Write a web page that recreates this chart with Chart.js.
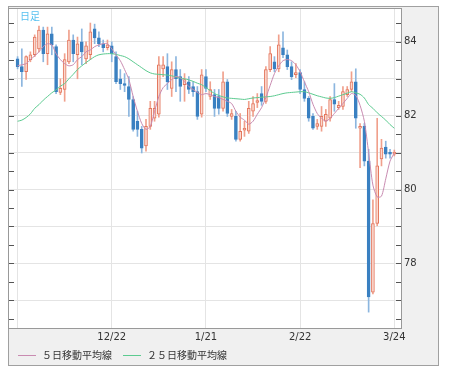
<!DOCTYPE html>
<html>
<head>
<meta charset="utf-8">
<script src="https://cdn.jsdelivr.net/npm/chart.js@4"></script>
<style>
  html, body { margin: 0; padding: 0; background: #fff; }
  canvas { display: block; }
</style>
</head>
<body>
<canvas id="usdjpy" width="449" height="374"></canvas>
<script>
const dates = ['11/22','11/23','11/24','11/25','11/26','11/29','11/30','12/1','12/2','12/3',
  '12/6','12/7','12/8','12/9','12/10','12/13','12/14','12/15','12/16','12/17',
  '12/20','12/21','12/22','12/23','12/24','12/27','12/28','12/29','12/30','12/31',
  '1/3','1/4','1/5','1/6','1/7','1/10','1/11','1/12','1/13','1/14',
  '1/17','1/18','1/19','1/20','1/21','1/24','1/25','1/26','1/27','1/28',
  '1/31','2/1','2/2','2/3','2/4','2/7','2/8','2/9','2/10','2/11',
  '2/14','2/15','2/16','2/17','2/18','2/21','2/22','2/23','2/24','2/25',
  '2/28','3/1','3/2','3/3','3/4','3/7','3/8','3/9','3/10','3/11',
  '3/14','3/15','3/16','3/17','3/18','3/21','3/22','3/23','3/24'];

const openPrices = [83.54,83.33,83.19,83.52,83.65,83.81,84.32,83.68,84.22,83.87,
  82.63,82.71,83.46,84.05,83.65,84.00,83.54,83.65,84.35,84.11,
  83.95,83.84,83.89,83.60,83.00,82.87,82.79,82.44,81.85,81.63,
  81.18,81.71,81.93,82.04,83.27,83.33,82.74,83.25,83.06,82.84,
  82.92,82.79,82.65,82.04,83.06,82.52,82.57,82.52,82.20,82.92,
  81.98,81.98,81.36,81.61,81.58,82.12,82.36,82.60,82.39,83.25,
  83.46,83.27,83.84,83.65,83.33,83.11,83.17,82.71,82.47,81.98,
  81.71,81.71,81.85,81.93,82.44,82.22,82.25,82.57,82.71,82.92,
  81.66,81.71,80.77,77.22,79.08,80.83,81.15,81.01,80.96];

const highPrices = [83.60,83.81,83.62,83.73,84.19,84.43,84.40,84.40,84.40,83.92,
  83.00,83.68,84.32,84.19,84.13,84.35,84.00,84.51,84.48,84.27,
  84.05,84.05,84.00,83.73,83.25,83.14,83.06,82.52,82.12,81.71,
  81.90,82.39,82.39,83.60,83.60,83.68,83.46,83.60,83.25,83.14,
  83.06,82.92,82.79,83.25,83.25,82.92,82.71,82.71,83.19,82.98,
  82.17,82.12,82.06,81.85,82.39,82.52,82.60,82.79,83.33,83.87,
  83.60,84.19,84.27,83.78,83.46,83.41,83.25,82.92,82.52,82.06,
  81.90,82.25,82.17,82.52,82.87,82.39,82.79,82.79,83.19,83.27,
  81.79,81.79,81.09,79.72,81.93,81.36,81.31,81.09,81.07];

const lowPrices = [83.27,82.79,82.98,83.46,83.60,83.73,83.46,83.38,83.65,82.60,
  82.57,82.39,83.41,83.46,83.00,83.38,83.41,83.52,83.95,83.87,
  83.73,83.78,83.46,82.87,82.71,82.65,81.98,81.58,81.44,80.99,
  81.04,81.63,81.85,81.96,83.06,82.71,82.52,82.65,82.39,82.39,
  82.60,82.52,81.90,81.96,82.65,82.44,81.98,82.04,82.12,81.98,
  81.90,81.31,81.31,81.44,81.52,81.98,82.22,82.28,82.33,83.19,
  83.19,83.19,83.57,83.25,82.98,83.03,82.60,82.39,81.85,81.63,
  81.63,81.58,81.71,81.85,82.12,82.17,82.17,82.52,82.65,81.66,
  80.59,80.64,76.68,77.17,79.02,80.64,80.85,80.85,80.91];

const closePrices = [83.33,83.19,83.60,83.65,84.13,84.32,83.68,84.22,83.92,82.65,
  82.74,83.52,84.05,83.68,83.95,83.73,83.89,84.27,84.11,83.95,
  83.84,83.92,83.68,82.92,82.87,82.82,82.44,81.63,81.63,81.12,
  81.71,82.20,82.20,83.38,83.38,82.92,83.25,83.00,82.79,82.98,
  82.71,82.65,81.98,83.11,82.74,82.71,82.20,82.20,82.92,82.06,
  82.06,81.36,81.58,81.66,82.20,82.33,82.41,82.39,83.25,83.68,
  83.27,83.92,83.65,83.33,83.06,83.17,82.71,82.47,81.93,81.66,
  81.79,81.98,82.04,82.44,82.31,82.28,82.65,82.71,82.92,81.93,
  81.71,80.77,77.09,79.08,80.64,81.12,80.96,80.96,81.01];

// moving averages
const ma5 = [83.35,83.38,83.41,83.52,83.62,83.73,83.87,83.95,83.92,83.68,
  83.52,83.41,83.35,83.38,83.52,83.60,83.73,83.78,83.87,83.92,
  83.95,83.95,83.81,83.65,83.49,83.25,82.98,82.52,82.12,81.79,
  81.63,81.71,82.12,82.52,82.76,82.87,82.98,83.06,83.03,82.92,
  82.79,82.71,82.63,82.57,82.60,82.57,82.52,82.49,82.44,82.39,
  82.33,82.12,81.96,81.88,81.77,81.85,82.04,82.22,82.49,82.82,
  83.14,83.35,83.49,83.52,83.49,83.38,83.19,82.92,82.65,82.31,
  82.06,81.93,81.85,81.93,82.06,82.20,82.33,82.47,82.60,82.55,
  82.28,81.85,81.00,80.12,79.80,79.82,80.29,80.77,80.99];

const ma25 = [81.85,81.88,81.95,82.05,82.20,82.30,82.42,82.52,82.62,82.70,
  82.80,82.87,83.00,83.12,83.25,83.35,83.44,83.52,83.60,83.65,
  83.67,83.68,83.68,83.66,83.63,83.60,83.54,83.46,83.38,83.30,
  83.22,83.16,83.13,83.12,83.11,83.10,83.08,83.05,83.02,83.00,
  82.97,82.93,82.88,82.84,82.76,82.68,82.60,82.55,82.51,82.48,
  82.47,82.46,82.45,82.44,82.46,82.48,82.49,82.50,82.51,82.52,
  82.54,82.57,82.60,82.62,82.63,82.64,82.65,82.65,82.62,82.58,
  82.54,82.51,82.48,82.47,82.49,82.53,82.57,82.61,82.65,82.62,
  82.58,82.48,82.30,82.20,82.08,81.98,81.88,81.76,81.66];

const gridDates = ['11/22', '12/22', '1/21', '2/22', '3/24'];
const labelDates = ['12/22', '1/21', '2/22', '3/24'];
const yTicks = [76.5, 77, 77.5, 78, 78.5, 79, 79.5, 80, 80.5, 81, 81.5, 82, 82.5, 83, 83.5, 84, 84.5];
const yLabels = [78, 80, 82, 84];

const isUp = i => closePrices[i] >= openPrices[i];

const framePlugin = {
  id: 'frame',
  beforeDraw(chart) {
    const {ctx, chartArea: a} = chart;
    ctx.save();
    ctx.fillStyle = '#ffffff';
    ctx.fillRect(0, 0, chart.width, chart.height);
    ctx.fillStyle = '#f0f0f0';
    ctx.fillRect(8, 6, 431, 360);
    ctx.strokeStyle = '#a0a0a0';
    ctx.lineWidth = 1;
    ctx.strokeRect(8.5, 6.5, 430, 359);
    ctx.fillStyle = '#ffffff';
    ctx.fillRect(a.left, a.top, a.right - a.left, a.bottom - a.top);
    ctx.restore();
  },
  afterDraw(chart) {
    const {ctx, chartArea: a} = chart;
    const y = chart.scales.y;
    ctx.save();
    ctx.strokeStyle = '#999999';
    ctx.lineWidth = 1;
    ctx.strokeRect(a.left - 0.5, a.top - 0.5, a.right - a.left + 1, a.bottom - a.top + 1);

    // tick marks pointing into the plot on both sides
    ctx.strokeStyle = '#555555';
    ctx.beginPath();
    y.ticks.forEach(t => {
      const py = Math.round(y.getPixelForValue(t.value)) + 0.5;
      ctx.moveTo(a.left, py); ctx.lineTo(a.left + 5, py);
      ctx.moveTo(a.right - 5, py); ctx.lineTo(a.right, py);
    });
    ctx.stroke();

    ctx.fillStyle = '#55c0f0';
    ctx.font = '10px "Noto Sans CJK JP"';
    ctx.textBaseline = 'middle';
    ctx.fillText('日足', 20, 16);

    // legend
    let lx = 18;
    chart.data.datasets.filter(ds => ds.type === 'line').forEach(ds => {
      ctx.strokeStyle = ds.borderColor;
      ctx.beginPath();
      ctx.moveTo(lx, 355.5); ctx.lineTo(lx + 18, 355.5);
      ctx.stroke();
      ctx.fillStyle = '#333333';
      ctx.fillText(ds.label, lx + 24, 355);
      lx += 105;
    });
    ctx.restore();
  }
};

new Chart(document.getElementById('usdjpy'), {
  type: 'bar',
  data: {
    datasets: [{
      type: 'line',
      label: '５日移動平均線',
      data: ma5.map((v, i) => ({x: i, y: v})),
      borderColor: '#c98bb1',
      borderWidth: 1,
      pointRadius: 0,
      tension: 0.25,
      order: 1
    }, {
      type: 'line',
      label: '２５日移動平均線',
      data: ma25.map((v, i) => ({x: i, y: v})),
      borderColor: '#5ccb90',
      borderWidth: 1,
      pointRadius: 0,
      tension: 0.25,
      order: 2
    }, {
      type: 'bar',
      label: 'body',
      data: dates.map((d, i) => ({x: i, y: [openPrices[i], closePrices[i]]})),
      backgroundColor: c => isUp(c.dataIndex) ? '#fbd8ce' : '#3a80c1',
      borderColor: c => isUp(c.dataIndex) ? '#e3765d' : '#3a80c1',
      borderWidth: 1,
      borderSkipped: false,
      barThickness: 3,
      minBarLength: 1,
      grouped: false,
      order: 3
    }, {
      type: 'bar',
      label: 'wick',
      data: dates.map((d, i) => ({x: i, y: [lowPrices[i], highPrices[i]]})),
      backgroundColor: c => isUp(c.dataIndex) ? '#f0a08c' : '#8cb6df',
      barThickness: 1,
      grouped: false,
      order: 4
    }]
  },
  options: {
    responsive: false,
    animation: false,
    layout: { padding: { left: 9, top: 7, right: 10, bottom: 0 } },
    plugins: { legend: { display: false }, tooltip: { enabled: false } },
    scales: {
      x: {
        type: 'linear',
        offset: false,
        min: -2,
        max: 89.56,
        afterBuildTicks: s => { s.ticks = gridDates.map(d => ({value: dates.indexOf(d)})); },
        afterFit: s => { s.height = 46; },
        ticks: {
          autoSkip: false,
          maxRotation: 0,
          padding: 3,
          color: '#333333',
          font: { family: 'DejaVu Sans', size: 10 },
          callback: v => labelDates.includes(dates[v]) ? dates[v] : ''
        },
        grid: { offset: false, color: '#e4e4e4', drawTicks: false },
        border: { display: false }
      },
      y: {
        position: 'right',
        min: 76.25,
        max: 84.89,
        afterBuildTicks: s => { s.ticks = yTicks.map(v => ({value: v})); },
        afterFit: s => { s.width = 38; },
        ticks: {
          autoSkip: false,
          padding: 3,
          color: '#333333',
          font: { family: 'DejaVu Sans', size: 10 },
          callback: v => yLabels.includes(v) ? String(v) : ''
        },
        grid: {
          color: c => Number.isInteger(c.tick.value) ? '#e4e4e4' : 'rgba(0,0,0,0)',
          drawTicks: false
        },
        border: { display: false }
      }
    }
  },
  plugins: [framePlugin]
});
</script>
</body>
</html>
